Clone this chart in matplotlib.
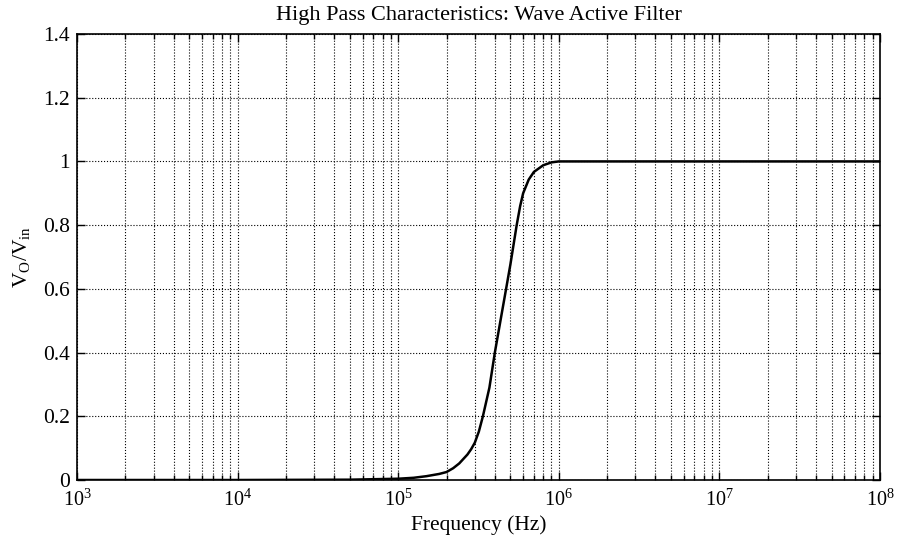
import matplotlib
matplotlib.use("Agg")
import matplotlib.pyplot as plt
from matplotlib.ticker import LogLocator

# values
freq_hz = [1e3, 1e4, 5e4, 1e5, 1.25e5, 1.5e5, 1.8e5, 2e5, 2.2e5, 2.4e5, 2.7e5,
           2.85e5, 3e5, 3.18e5, 3.37e5, 3.7e5, 4e5, 4.37e5, 4.7e5, 5e5, 5.47e5,
           5.75e5, 6e5, 6.5e5, 7e5, 8e5, 9e5, 1e6, 1e7, 1e8]
gain = [0.0, 0.0, 0.001, 0.004, 0.007, 0.012, 0.019, 0.025, 0.037, 0.052, 0.08,
        0.097, 0.117, 0.152, 0.20, 0.29, 0.40, 0.51, 0.60, 0.677, 0.80,
        0.86, 0.90, 0.943, 0.967, 0.988, 0.997, 1.0, 1.0, 1.0]
y_ticks = [0, 0.2, 0.4, 0.6, 0.8, 1.0, 1.2, 1.4]
y_tick_labels = ["0", "0.2", "0.4", "0.6", "0.8", "1", "1.2", "1.4"]

plt.rcParams["font.family"] = ["Liberation Serif", "DejaVu Serif"]
plt.rcParams["mathtext.fontset"] = "custom"
plt.rcParams["mathtext.rm"] = "Liberation Serif"
plt.rcParams["mathtext.it"] = "Liberation Serif:italic"

fig = plt.figure(figsize=(8.97, 5.38), dpi=100)
ax = fig.add_axes([0.0858, 0.1078, 0.8952, 0.829])

ax.semilogx(freq_hz, gain, color="black", linewidth=1.8)
ax.set_xlim(1e3, 1e8)
ax.set_ylim(0, 1.4)
ax.xaxis.set_major_locator(LogLocator(base=10, numticks=10))
ax.xaxis.set_minor_locator(LogLocator(base=10, subs=range(2, 10), numticks=50))
ax.set_yticks(y_ticks, y_tick_labels)

ax.grid(True, which="major", axis="both", color="black", linestyle=":", linewidth=0.8)
ax.grid(True, which="minor", axis="x", color="black", linestyle=":", linewidth=0.8)
ax.tick_params(which="both", direction="in", top=True, right=True,
               width=1.0, color="black")
ax.tick_params(which="major", length=6)
ax.tick_params(which="minor", length=3.5)
ax.tick_params(axis="x", labelsize=14.5, pad=7)
ax.tick_params(axis="y", labelsize=15.5, pad=5)
for spine in ax.spines.values():
    spine.set_linewidth(1.2)

ax.set_title("High Pass Characteristics: Wave Active Filter", fontsize=16, pad=10)
ax.set_xlabel("Frequency (Hz)", fontsize=15.5, labelpad=3)
ax.set_ylabel(r"V$_\mathrm{O}$/V$_\mathrm{in}$", fontsize=15.5, labelpad=8)

fig.savefig("out.png", dpi=100)
